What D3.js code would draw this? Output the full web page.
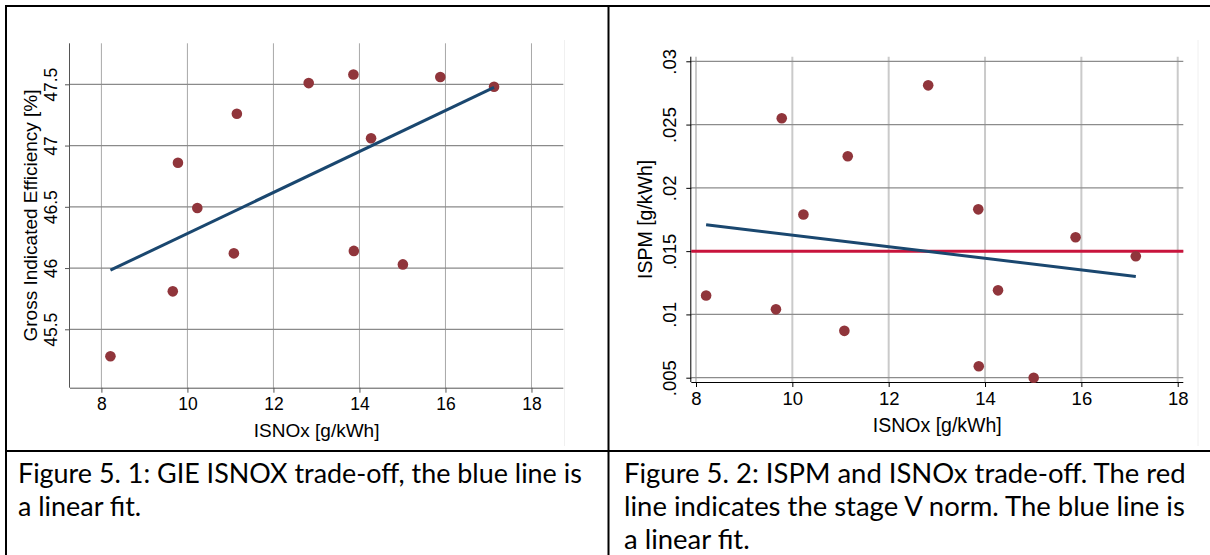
<!DOCTYPE html>
<html>
<head>
<meta charset="utf-8">
<script src="https://cdn.jsdelivr.net/npm/d3@7"></script>
<style>
  body { margin: 0; background: #fff; }
  svg { display: block; }
  text { font-family: "Liberation Sans", Arial, sans-serif; fill: #000; }
  .caption { font-family: Lato, "Open Sans", sans-serif; }
</style>
</head>
<body>
<div id="chart"></div>
<script>
// shared x values (ISNOx, g/kWh), one entry per test point
var isnox = [8.21, 9.66, 9.78, 10.23, 11.08, 11.15, 12.82, 13.86, 13.87, 14.27, 15.01, 15.88, 17.13];
// gross indicated efficiency [%]
var gie = [45.28, 45.81, 46.86, 46.49, 46.12, 47.26, 47.51, 47.58, 46.14, 47.06, 46.03, 47.56, 47.48];
// ISPM [g/kWh]
var ispm = [0.0115, 0.0104, 0.0255, 0.0179, 0.0087, 0.0225, 0.0281, 0.0183, 0.0059, 0.0119, 0.0050, 0.0161, 0.0146];
var stageVNorm = 0.015;

var xTicks = [8, 10, 12, 14, 16, 18];
var gieTicks = [45.5, 46, 46.5, 47, 47.5];
var ispmTicks = [0.005, 0.01, 0.015, 0.02, 0.025, 0.03];
var ispmTickLabels = [".005", ".01", ".015", ".02", ".025", ".03"];

var captionLeft = ["Figure 5. 1: GIE ISNOX trade-off, the blue line is", "a linear fit."];
var captionRight = ["Figure 5. 2: ISPM and ISNOx trade-off. The red", "line indicates the stage V norm. The blue line is", "a linear fit."];

var W = 1210, H = 555;
var dotColor = "#90353b", fitColor = "#1a476f", normColor = "#c8143c";

var svg = d3.select("#chart").append("svg")
    .attr("width", W)
    .attr("height", H);

// least squares fit, drawn from min x to max x like Stata's lfit
function linearFit(xs, ys) {
    var mx = d3.mean(xs), my = d3.mean(ys);
    var sxy = d3.sum(xs, function(x, i) { return (x - mx) * (ys[i] - my); });
    var sxx = d3.sum(xs, function(x) { return (x - mx) * (x - mx); });
    var b = sxy / sxx, a = my - b * mx;
    var ext = d3.extent(xs);
    return [[ext[0], a + b * ext[0]], [ext[1], a + b * ext[1]]];
}

function drawPanel(p) {
    var x = d3.scaleLinear().domain(p.xDomain).range([p.left, p.right]);
    var y = d3.scaleLinear().domain(p.yDomain).range([p.bottom, p.top]);
    var g = svg.append("g");

    // vertical grid
    g.selectAll("line.vgrid").data(xTicks).enter().append("line")
        .attr("x1", function(d) { return x(d); }).attr("x2", function(d) { return x(d); })
        .attr("y1", p.top).attr("y2", p.bottom)
        .attr("stroke", p.vGridColor).attr("stroke-width", p.vGridWidth);

    // horizontal grid
    g.selectAll("line.hgrid").data(p.yTicks).enter().append("line")
        .attr("x1", p.left).attr("x2", p.right)
        .attr("y1", function(d) { return y(d); }).attr("y2", function(d) { return y(d); })
        .attr("stroke", p.hGridColor).attr("stroke-width", 1.2);

    // axes
    var xAxis = d3.axisBottom(x).tickValues(xTicks).tickSize(5).tickPadding(5)
        .tickFormat(d3.format("d"));
    var gx = g.append("g").attr("transform", "translate(0," + p.bottom + ")").call(xAxis);
    gx.select(".domain").attr("d", "M" + p.left + ",0.5H" + p.right).attr("stroke", p.axisColor);
    gx.selectAll(".tick line").attr("stroke", p.axisColor);
    gx.selectAll(".tick text")
        .attr("font-size", p.tickFont + "px")
        .attr("font-family", "Liberation Sans, Arial, sans-serif")
        .attr("dy", "0.71em");

    var yAxis = d3.axisLeft(y).tickValues(p.yTicks).tickSize(5).tickPadding(0)
        .tickFormat(function(d, i) { return p.yTickLabels ? p.yTickLabels[i] : d3.format("")(d); });
    var gy = g.append("g").attr("transform", "translate(" + p.left + ",0)").call(yAxis);
    gy.select(".domain").attr("d", "M-0.5," + p.top + "V" + p.bottom).attr("stroke", p.axisColor);
    gy.selectAll(".tick line").attr("stroke", p.axisColor);
    gy.selectAll(".tick text")
        .attr("font-size", p.tickFont + "px")
        .attr("font-family", "Liberation Sans, Arial, sans-serif")
        .attr("text-anchor", "middle")
        .attr("x", 0).attr("dy", 0)
        .attr("transform", "translate(" + (p.yTickX - p.left) + ",0) rotate(-90)")
        .attr("y", 0)
        .attr("dominant-baseline", "central");

    // axis titles
    g.append("text")
        .attr("x", (p.left + p.right) / 2).attr("y", p.xTitleY)
        .attr("text-anchor", "middle").attr("dominant-baseline", "central")
        .attr("font-size", p.titleFont + "px")
        .text("ISNOx [g/kWh]");
    g.append("text")
        .attr("transform", "translate(" + p.yTitleX + "," + ((p.top + p.bottom) / 2) + ") rotate(-90)")
        .attr("text-anchor", "middle").attr("dominant-baseline", "central")
        .attr("font-size", p.titleFont + "px")
        .text(p.yTitle);

    // reference line
    if (p.hline != null) {
        g.append("line")
            .attr("x1", p.left).attr("x2", p.right)
            .attr("y1", y(p.hline)).attr("y2", y(p.hline))
            .attr("stroke", normColor).attr("stroke-width", 3);
    }

    // scatter
    g.selectAll("circle").data(p.ys).enter().append("circle")
        .attr("cx", function(d, i) { return x(isnox[i]); })
        .attr("cy", function(d) { return y(d); })
        .attr("r", 5.3)
        .attr("fill", dotColor);

    // linear fit
    var fit = linearFit(isnox, p.ys);
    g.append("path")
        .attr("d", d3.line().x(function(d) { return x(d[0]); }).y(function(d) { return y(d[1]); })(fit))
        .attr("fill", "none").attr("stroke", fitColor).attr("stroke-width", 3);

    // faint edge of the pasted graph image
    g.append("line")
        .attr("x1", p.imgEdge).attr("x2", p.imgEdge).attr("y1", 40).attr("y2", 446)
        .attr("stroke", "#f0f0f0").attr("stroke-width", 1);
}

drawPanel({
    xDomain: [7.27, 18.74], yDomain: [45.0233, 47.8347],
    left: 70, right: 563.3, top: 43.3, bottom: 387.7,
    yTicks: gieTicks, ys: gie,
    yTitle: "Gross Indicated Efficiency [%]",
    tickFont: 17.5, titleFont: 19,
    yTickX: 51, yTitleX: 30, xTitleY: 430,
    axisColor: "#555", vGridColor: "#a8a8a8", vGridWidth: 1, hGridColor: "#8a8a8a",
    imgEdge: 564.5
});

drawPanel({
    xDomain: [7.9024, 18.116], yDomain: [0.00466, 0.030363],
    left: 691.3, right: 1183.3, top: 56.7, bottom: 382,
    yTicks: ispmTicks, yTickLabels: ispmTickLabels, ys: ispm,
    yTitle: "ISPM [g/kWh]",
    tickFont: 18.5, titleFont: 19.5,
    yTickX: 669, yTitleX: 645, xTitleY: 425,
    axisColor: "#000", vGridColor: "#cacaca", vGridWidth: 2, hGridColor: "#8c8c8c",
    hline: stageVNorm,
    imgEdge: 1198
});

// table borders
var border = svg.append("g").attr("stroke", "#000").attr("stroke-width", 2);
border.append("line").attr("x1", 5).attr("x2", W).attr("y1", 6).attr("y2", 6);
border.append("line").attr("x1", 6).attr("x2", 6).attr("y1", 5).attr("y2", H);
border.append("line").attr("x1", 608.5).attr("x2", 608.5).attr("y1", 5).attr("y2", H);
border.append("line").attr("x1", 5).attr("x2", W).attr("y1", 451).attr("y2", 451);

// captions
function drawCaption(lines, x0, targetWidth, widestIndex) {
    var g = svg.append("g");
    var probe = g.append("text").attr("class", "caption").attr("font-size", "22px").text(lines[widestIndex]);
    var fs = 22 * targetWidth / probe.node().getComputedTextLength();
    probe.remove();
    g.selectAll("text").data(lines).enter().append("text")
        .attr("class", "caption")
        .attr("x", x0)
        .attr("y", function(d, i) { return 472 + i * 33; })
        .attr("dominant-baseline", "central")
        .attr("font-size", fs + "px")
        .text(function(d) { return d; });
}
drawCaption(captionLeft, 18, 564, 0);
drawCaption(captionRight, 624, 561, 1);
</script>
</body>
</html>
